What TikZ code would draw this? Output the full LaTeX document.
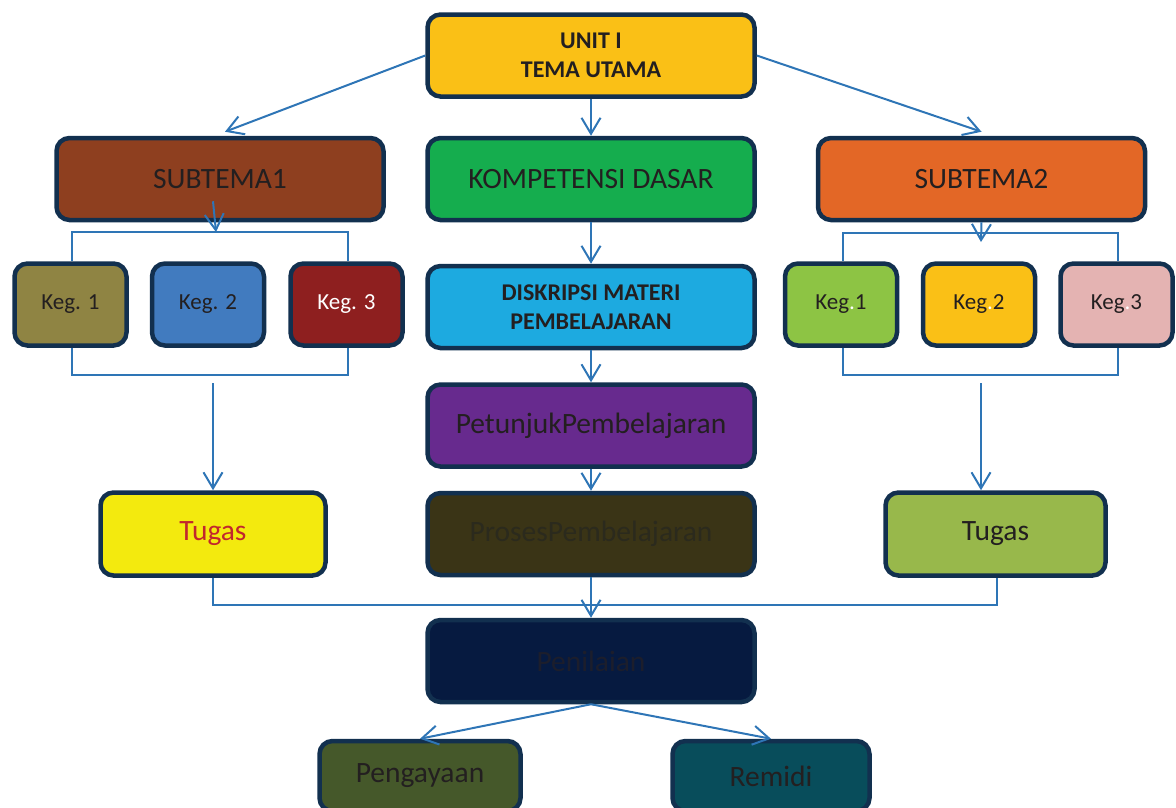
\documentclass[tikz,border=0pt]{standalone}
\usepackage{fontspec}
\setmainfont{Carlito}
\usetikzlibrary{arrows.meta}

\definecolor{edge}{HTML}{12304F}
\definecolor{linkblue}{HTML}{2E75B6}
\definecolor{ink}{HTML}{231F20}
\definecolor{gold}{HTML}{FAC016}
\definecolor{kompgreen}{HTML}{15AD4E}
\definecolor{deskblue}{HTML}{1DAAE0}
\definecolor{purple}{HTML}{672A8E}
\definecolor{olivedark}{HTML}{3A3416}
\definecolor{prosesink}{HTML}{2B2A1D}
\definecolor{navy}{HTML}{061A40}
\definecolor{nilaiink}{HTML}{1C1E2C}
\definecolor{brown}{HTML}{8E3F1F}
\definecolor{orange}{HTML}{E36726}
\definecolor{olive}{HTML}{8F8443}
\definecolor{midblue}{HTML}{417BBF}
\definecolor{darkred}{HTML}{8E1F1F}
\definecolor{lightgreen}{HTML}{8DC444}
\definecolor{pink}{HTML}{E4B3B2}
\definecolor{lemon}{HTML}{F3EA0E}
\definecolor{tugasred}{HTML}{C1272D}
\definecolor{leafgreen}{HTML}{98B84B}
\definecolor{moss}{HTML}{45582A}
\definecolor{teal}{HTML}{084D5B}

\begin{document}
\begin{tikzpicture}[x=1pt, y=-1pt,
  box/.style={draw=edge, line width=4.5pt, rounded corners=13pt, inner sep=0pt,
    minimum width=327pt, minimum height=82pt, text=ink, align=center,
    font=\fontsize{29.5}{34}\selectfont},
  keg/.style={box, minimum width=112pt, font=\fontsize{23}{27}\selectfont},
  bold/.style={font=\bfseries\fontsize{24}{29}\selectfont},
  arr/.style={draw=linkblue, line width=2pt, -{Straight Barb[length=16pt, width=19pt]}},
  bracket/.style={draw=linkblue, line width=1.6pt}]

% Fix the page size
\clip (0,0) rectangle (1176,807);

% Main column
\node[box, fill=gold, bold] (unit) at (591,55.5) {UNIT I\\TEMA UTAMA};
\node[box, fill=kompgreen] (komp) at (591,179) {KOMPETENSI DASAR};
\node[box, fill=deskblue, bold] (desk) at (591,307) {DISKRIPSI MATERI\\PEMBELAJARAN};
\node[box, fill=purple] (petunjuk) at (591,425.5) {PetunjukPembelajaran};
\node[box, fill=olivedark, text=prosesink] (proses) at (591,534) {ProsesPembelajaran};
\node[box, fill=navy, text=nilaiink] (nilai) at (591,661) {Penilaian};

% Subtema boxes
\node[box, fill=brown] (sub1) at (220,179) {SUBTEMA1};
\node[box, fill=orange] (sub2) at (981.5,179) {SUBTEMA2};

% Kegiatan of subtema 1
\node[keg, fill=olive] (kegA) at (70.5,304.5) {Keg. 1};
\node[keg, fill=midblue] (kegB) at (208,304.5) {Keg. 2};
\node[keg, fill=darkred, text=white] (kegC) at (346.5,304.5) {Keg. 3};

% Kegiatan of subtema 2
\node[keg, fill=lightgreen] (kegD) at (841,304.5) {Keg{\color{white}.}1};
\node[keg, fill=gold] (kegE) at (979,304.5) {Keg{\color{white}.}2};
\node[keg, fill=pink] (kegF) at (1116.5,304.5) {Keg{\color{white}.}3};

% Tugas boxes
\node[box, fill=lemon, text=tugasred, minimum width=225pt, minimum height=83pt] (tugasA) at (213,534) {Tugas};
\node[box, fill=leafgreen, minimum width=220pt, minimum height=83pt] (tugasB) at (995.5,534) {Tugas};

% Follow-up boxes
\node[box, fill=moss, minimum width=201pt, minimum height=70pt] (kaya) at (420,776) {Pengayaan};
\node[box, fill=teal, minimum width=197pt, minimum height=70pt] (remidi) at (771,776) {Remidi};

% Arrows down the main column
\foreach \a/\b in {unit/komp, komp/desk, desk/petunjuk, petunjuk/proses, proses/nilai}
{
    \draw[arr] (\a) -- (\b);
}

% Arrows from the unit to the subtema
\draw[arr] (unit.west) -- ([xshift=5pt, yshift=4pt]sub1.north);
\draw[arr] (unit.east) -- ([yshift=4pt]sub2.north);

% Brackets round the kegiatan (left)
\coordinate (topA) at (216,232);
\coordinate (botA) at (213,375);
\coordinate (downA) at (213,383);
\draw[bracket] ([xshift=1.5pt]kegA.north) |- (topA) -| ([xshift=1.5pt]kegC.north);
\draw[bracket] ([xshift=1.5pt]kegA.south) |- (botA) -| ([xshift=1.5pt]kegC.south);
\draw[arr] ([xshift=-7pt, yshift=21pt]sub1.south) -- (topA);
\draw[arr] (downA) -- (tugasA.north);

% Brackets round the kegiatan (right)
\coordinate (topB) at (981,233);
\coordinate (tipB) at (981,242);
\coordinate (botB) at (981,375);
\coordinate (downB) at (981,383);
\draw[bracket] ([xshift=2pt]kegD.north) |- (topB) -| ([xshift=1.5pt]kegF.north);
\draw[bracket] ([xshift=2pt]kegD.south) |- (botB) -| ([xshift=1.5pt]kegF.south);
\draw[arr] (sub2.south) -- (tipB);
\draw[arr] (downB) -- (downB |- tugasB.north);

% Tugas lines into the assessment
\coordinate (meet) at (591,605);
\draw[bracket] (tugasA.south) |- (meet);
\draw[bracket] ([xshift=1.5pt]tugasB.south) |- (meet);

% Penilaian to follow-up
\draw[arr] (nilai.south) -- (kaya.north);
\draw[arr] (nilai.south) -- (remidi.north);
\end{tikzpicture}
\end{document}
